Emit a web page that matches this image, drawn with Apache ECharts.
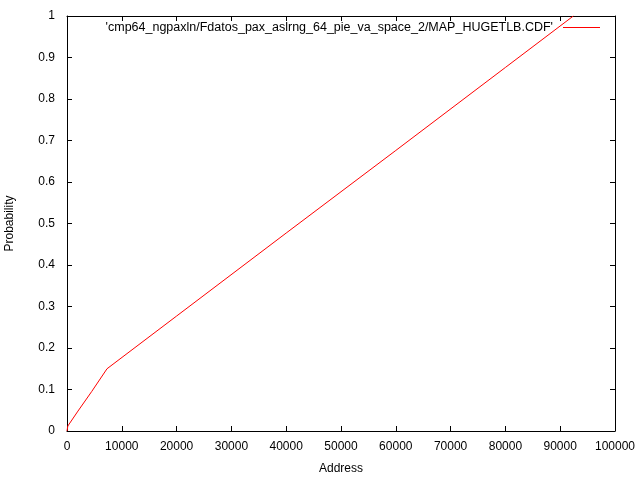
<!DOCTYPE html>
<html><head><meta charset="utf-8">
<script src="https://cdn.jsdelivr.net/npm/echarts@6/dist/echarts.min.js"></script>
<style>html,body{margin:0;padding:0;background:#fff}#c{width:640px;height:480px}</style>
</head><body><div id="c"></div>
<script>
const seriesName = "'cmp64_ngpaxln/Fdatos_pax_aslrng_64_pie_va_space_2/MAP_HUGETLB.CDF'";
const addresses = [0, 150, 2000, 4500, 7300, 20000, 40000, 60000, 80000, 92400];
const probabilities = [0, 0.012, 0.048, 0.095, 0.15, 0.277, 0.477, 0.676, 0.876, 1.0];
const xTicks = [0, 10000, 20000, 30000, 40000, 50000, 60000, 70000, 80000, 90000, 100000];
const yTicks = [0, 0.1, 0.2, 0.3, 0.4, 0.5, 0.6, 0.7, 0.8, 0.9, 1];

const font = 'Liberation Sans, Arial, sans-serif';
const chart = echarts.init(document.getElementById('c'), null, {renderer: 'canvas'});
const axisLine = {show: true, onZero: false, lineStyle: {color: '#000', width: 1}};
const axisTick = {show: true, inside: true, length: 5, lineStyle: {color: '#000'}};
chart.setOption({
  animation: false,
  backgroundColor: '#fff',
  grid: {left: 67, right: 25, top: 16, bottom: 49, containLabel: false, outerBoundsMode: 'none'},
  legend: {
    show: true, orient: 'horizontal', right: 40, top: 21, align: 'right',
    itemWidth: 37, itemHeight: 1, itemGap: 0, padding: 0,
    textStyle: {fontFamily: font, fontSize: 12.5, color: '#000', padding: [0, 5, 0, 0]},
    data: [{name: seriesName, icon: 'rect', itemStyle: {color: '#ff0000'}}]
  },
  xAxis: [{
    type: 'value', position: 'bottom', min: 0, max: 100000, interval: 10000,
    name: 'Address', nameLocation: 'middle', nameGap: 32,
    nameTextStyle: {fontFamily: font, fontSize: 12, color: '#000'},
    axisLine, axisTick, splitLine: {show: false},
    axisLabel: {margin: 10, fontFamily: font, fontSize: 12, color: '#000',
      formatter: v => xTicks.includes(v) ? String(v) : ''}
  }, {
    type: 'value', position: 'top', min: 0, max: 100000, interval: 10000,
    axisLine, axisTick, axisLabel: {show: false}, splitLine: {show: false}
  }],
  yAxis: [{
    type: 'value', position: 'left', min: 0, max: 1, interval: 0.1,
    name: 'Probability', nameLocation: 'middle', nameGap: 51, nameRotate: 90,
    nameTextStyle: {fontFamily: font, fontSize: 12, color: '#000'},
    axisLine, axisTick, splitLine: {show: false},
    axisLabel: {margin: 12, fontFamily: font, fontSize: 12, color: '#000',
      formatter: v => { const t = yTicks.find(y => Math.abs(y - v) < 1e-9); return t === undefined ? '' : String(t); }}
  }, {
    type: 'value', position: 'right', min: 0, max: 1, interval: 0.1,
    axisLine, axisTick, axisLabel: {show: false}, splitLine: {show: false}
  }],
  series: [{
    name: seriesName, type: 'line', xAxisIndex: 0, yAxisIndex: 0,
    showSymbol: false, symbol: 'none', clip: true,
    lineStyle: {color: '#ff0000', width: 1},
    itemStyle: {color: '#ff0000'},
    data: addresses.map((a, i) => [a, probabilities[i]])
  }]
});
</script></body></html>
